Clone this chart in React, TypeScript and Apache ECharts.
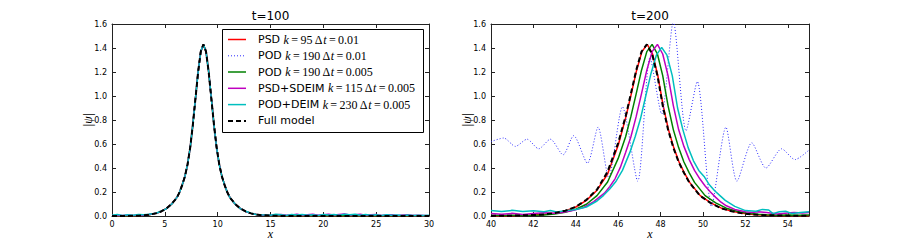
import React, { useEffect, useRef } from "react";
import * as echarts from "echarts";

// ---------- t = 100 (left panel) ----------
const leftX = [0, 0.5, 1, 1.5, 2, 2.5, 3, 3.5, 4.15, 4.65, 5.15, 5.65, 6.15, 6.4, 6.65, 6.9, 7.15, 7.4, 7.65, 7.9, 8.15, 8.4, 8.65, 8.9, 9.15, 9.4, 9.65, 9.9, 10.15, 10.4, 10.65, 10.9, 11.15, 11.65, 12.15, 12.65, 13.15, 13.65, 14.15, 15, 15.5, 16, 16.5, 17, 17.5, 18, 18.5, 19, 19.5, 20, 20.5, 21, 21.5, 22, 22.5, 23, 23.5, 24, 24.5, 25, 25.5, 26, 26.5, 27, 27.5, 28, 28.5, 29, 29.5, 30];

const psd100 = [0.001, 0.001, 0.001, 0.002, 0.002, 0.003, 0.006, 0.011, 0.022, 0.038, 0.063, 0.101, 0.156, 0.2, 0.262, 0.332, 0.43, 0.572, 0.76, 0.985, 1.2, 1.37, 1.425, 1.37, 1.2, 0.98, 0.765, 0.575, 0.432, 0.33, 0.26, 0.2, 0.155, 0.1, 0.062, 0.038, 0.022, 0.012, 0.007, 0.002, 0.001, 0.002, 0.001, 0.002, 0.001, 0.002, 0.001, 0.002, 0.001, 0.002, 0.001, 0.002, 0.001, 0.002, 0.001, 0.002, 0.001, 0.002, 0.001, 0.002, 0.001, 0.002, 0.001, 0.002, 0.001, 0.002, 0.001, 0.002, 0.001, 0.002];
const pod01_100 = [0.003, 0.005, 0.003, 0.006, 0.004, 0.005, 0.007, 0.011, 0.022, 0.038, 0.062, 0.1, 0.155, 0.2, 0.26, 0.33, 0.43, 0.57, 0.76, 0.98, 1.2, 1.37, 1.43, 1.37, 1.2, 0.98, 0.76, 0.57, 0.43, 0.33, 0.26, 0.2, 0.155, 0.1, 0.062, 0.038, 0.022, 0.012, 0.007, 0.003, 0.006, 0.004, 0.007, 0.003, 0.006, 0.005, 0.007, 0.003, 0.006, 0.004, 0.008, 0.003, 0.006, 0.004, 0.007, 0.003, 0.005, 0.004, 0.007, 0.003, 0.006, 0.004, 0.006, 0.003, 0.005, 0.004, 0.006, 0.003, 0.005, 0.004];
const pod005_100 = [0.002, 0.003, 0.002, 0.003, 0.003, 0.004, 0.006, 0.011, 0.022, 0.038, 0.062, 0.1, 0.155, 0.2, 0.26, 0.33, 0.43, 0.57, 0.76, 0.98, 1.2, 1.37, 1.43, 1.37, 1.2, 0.98, 0.76, 0.57, 0.43, 0.33, 0.26, 0.2, 0.155, 0.1, 0.062, 0.038, 0.022, 0.012, 0.007, 0.003, 0.002, 0.002, 0.003, 0.002, 0.003, 0.002, 0.003, 0.004, 0.002, 0.003, 0.002, 0.003, 0.004, 0.003, 0.002, 0.003, 0.004, 0.002, 0.003, 0.002, 0.003, 0.002, 0.003, 0.002, 0.003, 0.002, 0.002, 0.003, 0.002, 0.003];
const sdeim100 = [0.004, 0.007, 0.004, 0.008, 0.005, 0.009, 0.007, 0.012, 0.022, 0.038, 0.062, 0.1, 0.155, 0.2, 0.26, 0.33, 0.43, 0.57, 0.76, 0.98, 1.2, 1.37, 1.43, 1.37, 1.2, 0.98, 0.76, 0.57, 0.43, 0.33, 0.26, 0.2, 0.155, 0.1, 0.062, 0.038, 0.022, 0.012, 0.008, 0.004, 0.01, 0.013, 0.006, 0.009, 0.014, 0.007, 0.01, 0.015, 0.006, 0.011, 0.014, 0.008, 0.012, 0.016, 0.008, 0.011, 0.014, 0.006, 0.01, 0.012, 0.005, 0.009, 0.011, 0.004, 0.008, 0.01, 0.004, 0.007, 0.005, 0.003];
const deim100 = [0.006, 0.012, 0.005, 0.01, 0.007, 0.013, 0.01, 0.014, 0.023, 0.039, 0.062, 0.1, 0.155, 0.2, 0.26, 0.33, 0.43, 0.57, 0.76, 0.98, 1.2, 1.37, 1.43, 1.37, 1.2, 0.98, 0.76, 0.57, 0.43, 0.33, 0.26, 0.2, 0.155, 0.1, 0.062, 0.039, 0.023, 0.013, 0.01, 0.006, 0.014, 0.01, 0.005, 0.012, 0.008, 0.013, 0.006, 0.011, 0.005, 0.012, 0.009, 0.013, 0.007, 0.014, 0.01, 0.015, 0.007, 0.012, 0.006, 0.01, 0.005, 0.011, 0.006, 0.009, 0.004, 0.008, 0.005, 0.007, 0.004, 0.006];
const full100 = [0, 0, 0.001, 0.001, 0.002, 0.003, 0.006, 0.011, 0.022, 0.038, 0.062, 0.1, 0.155, 0.2, 0.26, 0.33, 0.43, 0.57, 0.76, 0.98, 1.2, 1.37, 1.43, 1.37, 1.2, 0.98, 0.76, 0.57, 0.43, 0.33, 0.26, 0.2, 0.155, 0.1, 0.062, 0.038, 0.022, 0.012, 0.007, 0.003, 0.002, 0.001, 0, 0, 0, 0, 0, 0, 0, 0, 0, 0, 0, 0, 0, 0, 0, 0, 0, 0, 0, 0, 0, 0, 0, 0, 0, 0, 0, 0];

// ---------- t = 200 (right panel), [x, |psi|] ----------
const psd200: [number, number][] = [[40, 0.001], [41, 0.003], [42, 0.008], [42.5, 0.013], [43, 0.024], [43.5, 0.042], [44, 0.075], [44.5, 0.13], [45, 0.215], [45.5, 0.35], [46, 0.59], [46.37, 0.83], [46.62, 1.02], [46.87, 1.215], [47.12, 1.37], [47.37, 1.43], [47.62, 1.35], [47.87, 1.17], [48.12, 0.92], [48.37, 0.72], [48.62, 0.57], [48.87, 0.45], [49.12, 0.36], [49.37, 0.28], [49.87, 0.17], [50.37, 0.11], [50.87, 0.065], [51.37, 0.04], [51.87, 0.022], [52.37, 0.013], [53, 0.007], [54, 0.003], [55, 0.002]];
const pod01_200: [number, number][] = [[40, 0.62], [40.6, 0.65], [41.15, 0.58], [41.7, 0.64], [42.25, 0.56], [42.8, 0.64], [43.4, 0.51], [43.9, 0.67], [44.55, 0.44], [45.05, 0.74], [45.55, 0.32], [46.2, 0.91], [46.92, 0.29], [47.5, 1.32], [48.05, 0.85], [48.6, 1.62], [49.2, 0.71], [49.73, 1.12], [50.4, 0.08], [51.08, 0.74], [51.6, 0.29], [52.3, 0.61], [52.97, 0.4], [53.71, 0.56], [54.34, 0.47], [55, 0.55]];
const pod005_200: [number, number][] = [[40, 0.006], [40.5, 0.004], [41, 0.007], [41.5, 0.004], [42, 0.007], [42.5, 0.009], [43, 0.017], [43.5, 0.032], [44, 0.056], [44.5, 0.098], [45, 0.17], [45.5, 0.283], [46, 0.48], [46.35, 0.66], [46.6, 0.83], [46.85, 1.02], [47.1, 1.215], [47.35, 1.37], [47.6, 1.43], [47.85, 1.35], [48.1, 1.17], [48.35, 0.92], [48.6, 0.72], [48.85, 0.57], [49.1, 0.45], [49.35, 0.36], [49.6, 0.28], [50.1, 0.17], [50.6, 0.11], [51.1, 0.065], [51.6, 0.04], [52.1, 0.022], [52.6, 0.014], [53, 0.01], [53.5, 0.007], [54, 0.008], [54.5, 0.006], [55, 0.008]];
const sdeim200: [number, number][] = [[40, 0.02], [40.5, 0.014], [41, 0.022], [41.5, 0.013], [42, 0.02], [42.5, 0.027], [43, 0.022], [43.35, 0.03], [43.85, 0.045], [44.35, 0.07], [44.85, 0.12], [45.35, 0.19], [45.6, 0.245], [45.85, 0.31], [46.1, 0.405], [46.35, 0.53], [46.6, 0.66], [46.85, 0.83], [47.1, 1.02], [47.35, 1.215], [47.6, 1.37], [47.85, 1.43], [48.1, 1.35], [48.35, 1.17], [48.6, 0.92], [48.85, 0.72], [49.1, 0.58], [49.35, 0.47], [49.6, 0.38], [49.85, 0.31], [50.1, 0.25], [50.35, 0.2], [50.6, 0.155], [50.85, 0.115], [51.1, 0.085], [51.5, 0.055], [52, 0.035], [52.3, 0.03], [52.6, 0.036], [53, 0.03], [53.5, 0.016], [54, 0.025], [54.3, 0.03], [54.7, 0.025], [55, 0.03]];
const deim200: [number, number][] = [[40, 0.045], [40.5, 0.038], [41, 0.047], [41.5, 0.037], [42, 0.043], [42.5, 0.036], [42.8, 0.046], [43.1, 0.034], [43.5, 0.044], [44, 0.055], [44.5, 0.075], [45, 0.125], [45.3, 0.17], [45.6, 0.225], [45.9, 0.29], [46.2, 0.38], [46.55, 0.53], [46.8, 0.66], [47.05, 0.81], [47.3, 1.0], [47.55, 1.19], [47.8, 1.34], [48.05, 1.405], [48.3, 1.34], [48.55, 1.17], [48.8, 0.9], [49.05, 0.72], [49.3, 0.57], [49.55, 0.46], [49.8, 0.38], [50.05, 0.33], [50.3, 0.26], [50.55, 0.21], [50.8, 0.17], [51.05, 0.13], [51.5, 0.08], [52, 0.045], [52.5, 0.04], [52.8, 0.055], [53.1, 0.05], [53.3, 0.02], [53.6, 0.035], [53.9, 0.04], [54.2, 0.02], [54.6, 0.03], [55, 0.035]];
const full200: [number, number][] = [[40, 0.001], [41, 0.003], [42, 0.008], [42.5, 0.013], [43, 0.025], [43.5, 0.044], [44, 0.077], [44.5, 0.135], [45, 0.22], [45.5, 0.37], [46, 0.61], [46.35, 0.83], [46.6, 1.02], [46.85, 1.215], [47.1, 1.37], [47.35, 1.43], [47.6, 1.35], [47.85, 1.17], [48.1, 0.92], [48.35, 0.72], [48.6, 0.57], [48.85, 0.45], [49.1, 0.36], [49.35, 0.28], [49.85, 0.17], [50.35, 0.11], [50.85, 0.065], [51.35, 0.04], [51.85, 0.022], [52.35, 0.013], [53, 0.007], [54, 0.003], [55, 0.001]];

const titles = ["t=100", "t=200"];
const legendEntries = [
  { name: "PSD", k: "95", dt: "0.01" },
  { name: "POD", k: "190", dt: "0.01" },
  { name: "POD", k: "190", dt: "0.005" },
  { name: "PSD+SDEIM", k: "115", dt: "0.005" },
  { name: "POD+DEIM", k: "230", dt: "0.005" },
];
const fullLabel = "Full model";

const styles = [
  { color: "#ff0000", width: 1.5, type: "solid" as any },
  { color: "#2a2aff", width: 1, type: [1, 2] as any },
  { color: "#008000", width: 1.5, type: "solid" as any },
  { color: "#bf00bf", width: 1.5, type: "solid" as any },
  { color: "#00bfbf", width: 1.5, type: "solid" as any },
  { color: "#000000", width: 2, type: [5, 3] as any },
];

const zip = (xs: number[], ys: number[]) => xs.map((x, i) => [x, ys[i]]);

export default function App() {
  const ref = useRef<HTMLDivElement>(null);
  useEffect(() => {
    if (!ref.current) return;
    const chart = echarts.init(ref.current, undefined, { renderer: "svg" });
    const frame = "#222";
    const tickFont = { fontSize: 8, fontFamily: "DejaVu Sans", color: "#000" };
    const mkX = (grid: number, min: number, max: number, interval: number, top: boolean) => ({
      type: "value",
      gridIndex: grid,
      position: top ? "top" : "bottom",
      min,
      max,
      interval,
      axisLine: { show: true, onZero: false, lineStyle: { color: frame, width: 1 } },
      axisTick: { show: true, inside: true, length: 4, lineStyle: { color: frame } },
      axisLabel: top
        ? { show: false }
        : { show: true, margin: 4, showMaxLabel: max === 30, ...tickFont },
      splitLine: { show: false },
    });
    const mkY = (grid: number, right: boolean) => ({
      type: "value",
      gridIndex: grid,
      position: right ? "right" : "left",
      min: 0,
      max: 1.6,
      interval: 0.2,
      axisLine: { show: true, onZero: false, lineStyle: { color: frame, width: 1 } },
      axisTick: { show: true, inside: true, length: 4, lineStyle: { color: frame } },
      axisLabel: right
        ? { show: false }
        : { show: true, margin: 5, formatter: (v: number) => v.toFixed(1), ...tickFont },
      splitLine: { show: false },
    });

    const leftData = [psd100, pod01_100, pod005_100, sdeim100, deim100, full100].map((ys) => zip(leftX, ys));
    const rightData = [psd200, pod01_200, pod005_200, sdeim200, deim200, full200];

    const series: any[] = [];
    leftData.forEach((d, i) => {
      series.push({
        type: "line",
        xAxisIndex: 0,
        yAxisIndex: 0,
        data: d,
        showSymbol: false,
        symbol: "none",
        lineStyle: styles[i],
        z: 2 + i,
      });
    });
    rightData.forEach((d, i) => {
      series.push({
        type: "line",
        xAxisIndex: 2,
        yAxisIndex: 2,
        data: d,
        showSymbol: false,
        symbol: "none",
        smooth: i === 1 ? 0.25 : false,
        lineStyle: styles[i],
        z: 2 + i,
      });
    });

    const mathRich = {
      n: { fontFamily: "DejaVu Sans", fontSize: 11, fill: "#000" },
      i: { fontFamily: "Liberation Serif", fontStyle: "italic", fontSize: 12, fill: "#000" },
      m: { fontFamily: "Liberation Serif", fontSize: 12, fill: "#000" },
    };
    const ts = "\u2009";

    const legendX = 222;
    const legendY = 29;
    const rowY = [39.5, 55.8, 72, 88.3, 104.6, 120.9];
    const legendGraphics: any[] = [
      {
        type: "rect",
        shape: { x: legendX + 0.5, y: legendY + 0.5, width: 201, height: 103 },
        style: { fill: "#fff", stroke: "#000", lineWidth: 1 },
        z: 100,
      },
    ];
    rowY.forEach((y, i) => {
      const st = styles[i];
      legendGraphics.push({
        type: "line",
        shape: { x1: 228, y1: y, x2: 246, y2: y },
        style: {
          stroke: st.color,
          lineWidth: st.width,
          lineDash: Array.isArray(st.type) ? st.type : null,
        },
        z: 101,
      });
      const e = legendEntries[i];
      const text = e
        ? `{n|${e.name} }{i|k}{m|${ts}=${ts}${e.k} Δ}{i|t}{m|${ts}=${ts}${e.dt}}`
        : `{n|${fullLabel}}`;
      legendGraphics.push({
        type: "text",
        x: 258,
        y,
        style: { text, rich: mathRich, verticalAlign: "middle", align: "left", fontSize: 11 },
        z: 101,
      });
    });

    const textGraphics: any[] = [
      { type: "text", x: 270.5, y: 16, style: { text: titles[0], fontFamily: "DejaVu Sans", fontSize: 12, fill: "#000", align: "center", verticalAlign: "middle" } },
      { type: "text", x: 650, y: 16, style: { text: titles[1], fontFamily: "DejaVu Sans", fontSize: 12, fill: "#000", align: "center", verticalAlign: "middle" } },
      { type: "text", x: 270.5, y: 234, style: { text: "x", fontFamily: "Liberation Serif", fontStyle: "italic", fontSize: 12, fill: "#000", align: "center", verticalAlign: "middle" } },
      { type: "text", x: 650, y: 234, style: { text: "x", fontFamily: "Liberation Serif", fontStyle: "italic", fontSize: 12, fill: "#000", align: "center", verticalAlign: "middle" } },
      { type: "text", x: 88, y: 120, rotation: Math.PI / 2, style: { text: "|ψ|", fontFamily: "Liberation Serif", fontStyle: "italic", fontSize: 12, fill: "#000", align: "center", verticalAlign: "middle" } },
      { type: "text", x: 467, y: 120, rotation: Math.PI / 2, style: { text: "|ψ|", fontFamily: "Liberation Serif", fontStyle: "italic", fontSize: 12, fill: "#000", align: "center", verticalAlign: "middle" } },
    ];

    chart.setOption({
      animation: false,
      backgroundColor: "#fff",
      grid: [
        { left: 112, top: 24, width: 317, height: 192, containLabel: false },
        { left: 491, top: 24, width: 318, height: 192, containLabel: false },
      ],
      xAxis: [mkX(0, 0, 30, 5, false), mkX(0, 0, 30, 5, true), mkX(1, 40, 55, 2, false), mkX(1, 40, 55, 2, true)],
      yAxis: [mkY(0, false), mkY(0, true), mkY(1, false), mkY(1, true)],
      series,
      graphic: [...legendGraphics, ...textGraphics],
    });
    return () => chart.dispose();
  }, []);
  return (
    <div
      ref={ref}
      style={{ position: "fixed", left: 0, top: 0, width: 899, height: 241, background: "#fff" }}
    />
  );
}
